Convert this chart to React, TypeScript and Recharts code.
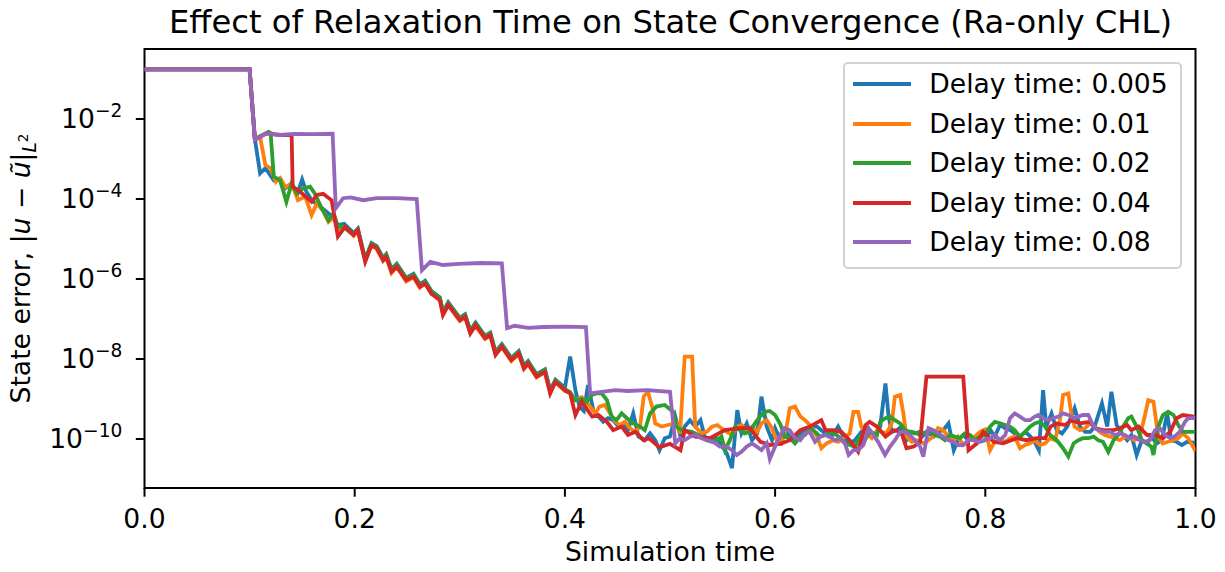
import { LineChart, Line, XAxis, YAxis, Legend, ReferenceArea } from 'recharts';

// values are read as log10 of the state error: [time, log10(error)]
const blueLog: [number, number][] = [
  [0, -0.76], [0.1, -0.76], [0.105, -2.5], [0.11, -3.36], [0.115, -3.23], [0.123, -3.53], [0.129, -3.48], [0.134, -3.73],
  [0.14, -3.61], [0.145, -3.9], [0.15, -3.51], [0.154, -3.82], [0.159, -4.03], [0.165, -4.15], [0.17, -4.25], [0.177, -4.4],
  [0.184, -4.65], [0.19, -4.62], [0.199, -4.85], [0.203, -4.74], [0.21, -5.5], [0.216, -5.1], [0.221, -5.18], [0.227, -5.47],
  [0.23, -5.38], [0.235, -5.75], [0.24, -5.62], [0.249, -5.97], [0.256, -5.87], [0.262, -6.13], [0.267, -6.04], [0.273, -6.3],
  [0.281, -6.46], [0.284, -6.82], [0.289, -6.58], [0.3, -6.97], [0.305, -6.88], [0.31, -7.29], [0.315, -7.09], [0.324, -7.42],
  [0.329, -7.34], [0.334, -7.82], [0.34, -7.63], [0.349, -7.97], [0.356, -7.8], [0.361, -8.16], [0.365, -8.05], [0.373, -8.38],
  [0.381, -8.26], [0.386, -8.78], [0.391, -8.52], [0.4, -8.72], [0.405, -7.94], [0.41, -8.78], [0.414, -9.2], [0.418, -9.3],
  [0.422, -8.65], [0.427, -9.28], [0.432, -9.44], [0.4365, -9.57], [0.441, -9.48], [0.446, -9.53], [0.451, -9.69], [0.456, -9.61],
  [0.46, -9.78], [0.465, -9.36], [0.47, -9.94], [0.476, -10.03], [0.481, -9.86], [0.486, -10.03], [0.49, -10.28], [0.495, -9.98],
  [0.5, -9.94], [0.505, -9.44], [0.51, -9.94], [0.514, -9.69], [0.519, -9.53], [0.524, -9.69], [0.529, -9.53], [0.533, -9.94],
  [0.538, -10.03], [0.543, -9.94], [0.548, -10.11], [0.554, -10.36], [0.559, -10.73], [0.564, -9.28], [0.568, -9.86], [0.573, -9.61],
  [0.578, -10.03], [0.583, -9.86], [0.587, -8.94], [0.592, -9.69], [0.597, -10.03], [0.6, -9.73], [0.605, -10.03], [0.609, -9.78],
  [0.614, -9.94], [0.619, -10.03], [0.624, -9.86], [0.633, -9.69], [0.64, -9.69], [0.651, -9.94], [0.655, -9.9], [0.66, -9.69],
  [0.665, -9.94], [0.671, -10.11], [0.676, -10.03], [0.681, -9.86], [0.686, -9.69], [0.69, -9.78], [0.695, -9.94], [0.7, -9.69],
  [0.705, -8.61], [0.708, -9.44], [0.711, -9.82], [0.716, -9.78], [0.72, -9.69], [0.725, -10.03], [0.73, -9.82], [0.735, -9.86],
  [0.74, -9.94], [0.744, -9.82], [0.751, -9.94], [0.755, -9.82], [0.76, -9.78], [0.765, -9.61], [0.77, -10.28], [0.774, -10.03],
  [0.779, -9.9], [0.784, -10.03], [0.789, -9.98], [0.795, -10.07], [0.8, -10.03], [0.805, -9.78], [0.809, -9.94], [0.814, -9.65],
  [0.819, -9.73], [0.824, -9.78], [0.828, -9.86], [0.833, -9.94], [0.838, -9.82], [0.843, -9.94], [0.847, -10.07], [0.851, -10.28],
  [0.855, -8.78], [0.858, -9.69], [0.863, -9.36], [0.868, -9.78], [0.873, -9.86], [0.878, -9.69], [0.885, -9.23], [0.89, -9.69],
  [0.895, -9.82], [0.9, -9.82], [0.904, -9.69], [0.911, -9.11], [0.916, -9.69], [0.92, -8.82], [0.925, -9.65], [0.93, -9.86],
  [0.935, -10.03], [0.939, -9.9], [0.944, -10.4], [0.949, -10.03], [0.954, -10.11], [0.958, -9.94], [0.963, -10.11], [0.968, -10.03],
  [0.973, -9.36], [0.977, -10.03], [0.982, -10.07], [0.987, -10.15], [0.992, -10.07], [1.0, -10.1],
];

const orangeLog: [number, number][] = [
  [0, -0.76], [0.1, -0.76], [0.105, -2.5], [0.11, -2.45], [0.115, -3.15], [0.12, -3.23], [0.125, -3.57], [0.129, -3.48],
  [0.134, -3.7], [0.14, -3.62], [0.146, -4.03], [0.153, -3.94], [0.159, -4.4], [0.164, -4.11], [0.17, -4.3], [0.175, -4.57],
  [0.18, -4.45], [0.184, -4.78], [0.19, -4.7], [0.199, -4.92], [0.203, -4.8], [0.21, -5.55], [0.216, -5.15], [0.221, -5.25],
  [0.227, -5.55], [0.23, -5.46], [0.235, -5.85], [0.24, -5.7], [0.249, -6.06], [0.256, -5.96], [0.262, -6.22], [0.267, -6.12],
  [0.273, -6.38], [0.281, -6.5], [0.284, -6.88], [0.289, -6.65], [0.3, -7.05], [0.305, -6.95], [0.31, -7.35], [0.315, -7.17],
  [0.324, -7.5], [0.329, -7.42], [0.334, -7.88], [0.34, -7.7], [0.349, -8.05], [0.356, -7.88], [0.361, -8.25], [0.365, -8.13],
  [0.373, -8.46], [0.381, -8.33], [0.386, -8.84], [0.391, -8.58], [0.4, -8.8], [0.405, -8.85], [0.41, -9.03], [0.416, -8.95],
  [0.424, -9.19], [0.429, -9.36], [0.433, -9.19], [0.438, -9.15], [0.443, -9.36], [0.448, -9.57], [0.452, -9.65], [0.457, -9.57],
  [0.462, -9.73], [0.467, -9.82], [0.4715, -9.69], [0.475, -8.94], [0.479, -8.82], [0.483, -9.19], [0.486, -9.61], [0.492, -9.69],
  [0.498, -9.65], [0.506, -9.6], [0.5095, -9.86], [0.514, -7.94], [0.521, -7.94], [0.524, -9.69], [0.53, -9.86], [0.535, -9.82],
  [0.54, -9.69], [0.545, -9.65], [0.549, -9.73], [0.554, -9.82], [0.559, -9.9], [0.564, -9.69], [0.568, -9.65], [0.573, -9.78],
  [0.578, -9.69], [0.583, -9.82], [0.587, -9.61], [0.592, -9.53], [0.597, -9.73], [0.6015, -10.03], [0.606, -10.11], [0.611, -9.69],
  [0.614, -9.23], [0.619, -9.19], [0.624, -9.44], [0.6285, -9.53], [0.633, -9.65], [0.64, -9.94], [0.644, -10.23], [0.649, -10.11],
  [0.655, -10.03], [0.66, -10.07], [0.665, -9.98], [0.671, -9.86], [0.6745, -9.32], [0.679, -9.32], [0.682, -9.69], [0.687, -9.86],
  [0.692, -9.98], [0.697, -9.78], [0.7015, -9.82], [0.706, -9.86], [0.711, -9.61], [0.714, -8.94], [0.719, -8.9], [0.722, -9.36],
  [0.725, -9.94], [0.73, -10.07], [0.735, -10.03], [0.741, -10.11], [0.746, -10.03], [0.7505, -9.94], [0.755, -9.73], [0.76, -9.78],
  [0.765, -9.94], [0.7695, -10.03], [0.774, -9.94], [0.779, -10.15], [0.785, -10.03], [0.79, -9.94], [0.795, -9.82], [0.8, -9.76],
  [0.8045, -10.28], [0.809, -10.07], [0.814, -10.03], [0.819, -10.07], [0.8235, -9.98], [0.828, -9.94], [0.833, -10.23], [0.838, -10.15],
  [0.8425, -10.11], [0.847, -10.03], [0.852, -10.15], [0.857, -10.11], [0.8616, -9.98], [0.8663, -10.03], [0.871, -9.53], [0.874, -8.9],
  [0.879, -8.86], [0.882, -9.4], [0.885, -9.69], [0.89, -9.78], [0.895, -9.73], [0.8996, -9.61], [0.904, -9.69], [0.9087, -9.82],
  [0.9138, -9.9], [0.9187, -9.94], [0.9233, -9.98], [0.928, -10.03], [0.9327, -9.94], [0.9375, -9.98], [0.942, -10.03], [0.947, -9.94],
  [0.952, -9.4], [0.955, -9.03], [0.96, -9.07], [0.9646, -9.94], [0.969, -10.11], [0.974, -10.07], [0.979, -10.03], [0.9836, -9.98],
  [0.988, -9.86], [0.993, -9.98], [1.0, -10.3],
];

const greenLog: [number, number][] = [
  [0, -0.76], [0.1, -0.76], [0.105, -2.5], [0.118, -2.32], [0.12, -2.35], [0.123, -3.44], [0.129, -3.53], [0.135, -4.07],
  [0.14, -3.61], [0.145, -3.86], [0.151, -3.73], [0.1575, -3.69], [0.162, -3.86], [0.1686, -4.23], [0.175, -4.53], [0.18, -4.36],
  [0.184, -4.69], [0.189, -4.69], [0.195, -4.82], [0.199, -4.88], [0.203, -4.76], [0.21, -5.52], [0.216, -5.12], [0.221, -5.2],
  [0.227, -5.5], [0.23, -5.4], [0.235, -5.78], [0.24, -5.64], [0.249, -5.99], [0.256, -5.9], [0.262, -6.15], [0.267, -6.07],
  [0.273, -6.32], [0.281, -6.48], [0.284, -6.85], [0.289, -6.6], [0.3, -6.99], [0.305, -6.9], [0.31, -7.32], [0.315, -7.11],
  [0.324, -7.44], [0.329, -7.36], [0.334, -7.85], [0.34, -7.65], [0.349, -7.99], [0.356, -7.82], [0.361, -8.19], [0.365, -8.07],
  [0.373, -8.4], [0.381, -8.28], [0.386, -8.82], [0.391, -8.54], [0.4, -8.75], [0.405, -8.83], [0.41, -9.03], [0.416, -9.0],
  [0.421, -9.07], [0.4255, -8.9], [0.43, -8.86], [0.435, -8.86], [0.44, -9.03], [0.4445, -9.44], [0.449, -9.53], [0.454, -9.36],
  [0.459, -9.48], [0.465, -9.61], [0.4715, -9.69], [0.476, -9.78], [0.481, -9.36], [0.487, -9.19], [0.495, -9.15], [0.503, -9.32],
  [0.506, -9.69], [0.511, -9.78], [0.521, -9.82], [0.53, -9.94], [0.535, -10.03], [0.54, -10.07], [0.5445, -10.03], [0.549, -9.94],
  [0.5523, -10.28], [0.557, -10.03], [0.562, -9.69], [0.5666, -9.78], [0.571, -9.86], [0.576, -9.82], [0.5808, -9.61], [0.5856, -9.44],
  [0.5904, -9.32], [0.595, -9.3], [0.6, -9.4], [0.605, -9.63], [0.609, -9.94], [0.614, -9.98], [0.619, -10.11], [0.624, -9.94],
  [0.6285, -9.9], [0.633, -9.73], [0.638, -9.82], [0.643, -9.94], [0.6475, -9.9], [0.652, -9.82], [0.657, -9.86], [0.6617, -9.98],
  [0.6665, -10.11], [0.671, -10.15], [0.676, -10.19], [0.681, -9.94], [0.6855, -10.03], [0.69, -9.82], [0.697, -9.9], [0.7, -9.57],
  [0.705, -9.48], [0.7094, -9.44], [0.714, -9.53], [0.719, -9.61], [0.7236, -9.78], [0.728, -9.82], [0.733, -9.86], [0.738, -9.82],
  [0.7425, -9.86], [0.747, -9.78], [0.752, -9.9], [0.757, -9.94], [0.7616, -10.03], [0.7664, -9.9], [0.771, -9.94], [0.776, -9.98],
  [0.7807, -9.86], [0.7855, -9.9], [0.79, -10.03], [0.795, -9.94], [0.8, -9.9], [0.8045, -9.69], [0.809, -9.57], [0.814, -9.61],
  [0.819, -9.65], [0.8235, -9.69], [0.828, -9.78], [0.833, -9.94], [0.838, -9.82], [0.8425, -9.69], [0.847, -9.61], [0.852, -9.57],
  [0.857, -9.69], [0.8616, -9.9], [0.868, -10.03], [0.874, -10.23], [0.879, -10.44], [0.884, -10.11], [0.8885, -10.03], [0.893, -9.98],
  [0.898, -9.98], [0.903, -9.94], [0.9075, -10.03], [0.912, -10.07], [0.917, -10.32], [0.922, -10.03], [0.9266, -9.9], [0.931, -9.69],
  [0.936, -9.48], [0.939, -9.44], [0.944, -9.69], [0.949, -10.03], [0.9535, -10.11], [0.958, -10.19], [0.96, -10.4], [0.9646, -9.69],
  [0.969, -9.4], [0.974, -9.32], [0.979, -9.4], [0.9836, -9.65], [0.988, -9.82], [0.993, -9.82], [1.0, -9.82],
];

const redLog: [number, number][] = [
  [0, -0.76], [0.1, -0.76], [0.105, -2.52], [0.116, -2.36], [0.129, -2.4], [0.14, -2.4], [0.141, -3.69], [0.148, -3.82],
  [0.159, -4.07], [0.164, -3.9], [0.17, -3.87], [0.178, -4.03], [0.184, -4.94], [0.191, -4.69], [0.199, -4.9], [0.203, -4.78],
  [0.21, -5.57], [0.216, -5.15], [0.221, -5.23], [0.227, -5.53], [0.23, -5.44], [0.235, -5.82], [0.24, -5.69], [0.249, -6.03],
  [0.256, -5.94], [0.262, -6.19], [0.267, -6.11], [0.273, -6.36], [0.281, -6.53], [0.284, -6.9], [0.289, -6.65], [0.3, -7.03],
  [0.305, -6.94], [0.31, -7.36], [0.315, -7.15], [0.324, -7.48], [0.329, -7.4], [0.334, -7.9], [0.34, -7.69], [0.349, -8.03],
  [0.356, -7.86], [0.361, -8.23], [0.365, -8.11], [0.373, -8.44], [0.381, -8.32], [0.386, -8.86], [0.391, -8.57], [0.4, -8.78],
  [0.405, -8.86], [0.41, -9.4], [0.416, -9.07], [0.426, -9.44], [0.432, -9.4], [0.44, -9.57], [0.446, -9.78], [0.454, -9.69],
  [0.46, -9.9], [0.467, -9.82], [0.475, -10.03], [0.48, -9.98], [0.49, -10.21], [0.5, -10.12], [0.51, -10.28], [0.514, -9.78],
  [0.524, -9.94], [0.538, -9.98], [0.552, -9.78], [0.567, -9.73], [0.576, -9.73], [0.586, -10.07], [0.595, -10.15], [0.605, -10.12],
  [0.614, -10.03], [0.624, -9.78], [0.633, -9.69], [0.644, -9.53], [0.648, -9.78], [0.655, -9.78], [0.663, -9.82], [0.671, -10.03],
  [0.679, -10.32], [0.686, -9.65], [0.69, -9.57], [0.697, -9.69], [0.705, -9.94], [0.713, -9.78], [0.72, -9.82], [0.725, -10.23],
  [0.732, -10.19], [0.738, -10.07], [0.744, -8.44], [0.779, -8.44], [0.784, -10.28], [0.792, -10.11], [0.798, -9.82], [0.808, -10.07],
  [0.817, -10.11], [0.83, -9.98], [0.839, -10.03], [0.849, -9.98], [0.857, -9.98], [0.862, -9.69], [0.868, -9.61], [0.876, -9.65],
  [0.882, -9.53], [0.89, -9.61], [0.9, -9.57], [0.904, -9.73], [0.912, -9.78], [0.922, -9.78], [0.928, -9.73], [0.935, -9.65],
  [0.939, -9.78], [0.946, -9.69], [0.954, -9.9], [0.962, -9.9], [0.969, -9.98], [0.976, -9.82], [0.982, -9.48], [0.988, -9.4],
  [1.0, -9.45],
];

const purpleLog: [number, number][] = [
  [0, -0.76], [0.1, -0.76], [0.105, -2.52], [0.116, -2.36], [0.129, -2.4], [0.142, -2.37], [0.16, -2.38], [0.179, -2.37],
  [0.182, -4.23], [0.189, -3.98], [0.196, -3.96], [0.208, -4.03], [0.221, -3.98], [0.24, -3.98], [0.259, -4.0], [0.264, -5.78],
  [0.272, -5.57], [0.284, -5.65], [0.299, -5.62], [0.32, -5.6], [0.34, -5.61], [0.345, -7.23], [0.352, -7.17], [0.365, -7.22],
  [0.38, -7.2], [0.4, -7.19], [0.42, -7.2], [0.424, -8.86], [0.435, -8.82], [0.448, -8.78], [0.46, -8.8], [0.478, -8.78],
  [0.5, -8.82], [0.505, -10.11], [0.5095, -9.98], [0.514, -10.03], [0.519, -9.94], [0.525, -9.9], [0.53, -9.98], [0.535, -10.03],
  [0.541, -10.07], [0.5475, -10.19], [0.554, -10.19], [0.559, -10.28], [0.5635, -10.4], [0.568, -10.32], [0.573, -10.19], [0.578, -10.11],
  [0.5825, -10.19], [0.587, -10.28], [0.592, -10.11], [0.595, -10.5], [0.6, -10.19], [0.605, -9.9], [0.609, -9.73], [0.614, -9.78],
  [0.619, -9.98], [0.624, -10.03], [0.6285, -9.86], [0.633, -9.82], [0.638, -10.07], [0.643, -9.94], [0.6475, -9.9], [0.652, -9.94],
  [0.657, -10.03], [0.6617, -9.98], [0.6665, -10.11], [0.67, -10.4], [0.6745, -10.28], [0.679, -10.28], [0.684, -10.15], [0.689, -9.73],
  [0.6935, -9.9], [0.698, -10.07], [0.7046, -10.4], [0.7094, -10.19], [0.714, -10.03], [0.719, -9.82], [0.7236, -9.82], [0.728, -9.9],
  [0.733, -10.03], [0.738, -10.19], [0.741, -10.44], [0.746, -9.73], [0.7505, -9.78], [0.755, -9.86], [0.76, -9.94], [0.765, -10.03],
  [0.7695, -10.07], [0.774, -10.15], [0.779, -10.15], [0.784, -10.03], [0.7886, -10.03], [0.793, -10.07], [0.798, -10.03], [0.8045, -9.98],
  [0.809, -9.9], [0.814, -10.03], [0.819, -9.9], [0.8235, -9.48], [0.828, -9.36], [0.833, -9.44], [0.838, -9.53], [0.8425, -9.53],
  [0.847, -9.44], [0.8505, -9.4], [0.855, -9.48], [0.86, -9.53], [0.8647, -9.48], [0.8695, -9.44], [0.874, -9.36], [0.879, -9.4],
  [0.884, -9.48], [0.8885, -9.44], [0.893, -9.4], [0.898, -9.4], [0.901, -9.57], [0.904, -9.73], [0.9087, -9.78], [0.9138, -9.82],
  [0.9187, -9.82], [0.9233, -9.9], [0.928, -9.86], [0.9327, -9.9], [0.9375, -9.98], [0.942, -9.94], [0.947, -10.03], [0.952, -10.07],
  [0.9566, -10.03], [0.9615, -9.78], [0.966, -9.73], [0.971, -9.9], [0.976, -9.98], [0.98, -9.94], [0.985, -9.82], [0.99, -9.57],
  [0.993, -9.48], [1.0, -9.48],
];

const delayTimes = ['0.005', '0.01', '0.02', '0.04', '0.08'];
const seriesLogs = [blueLog, orangeLog, greenLog, redLog, purpleLog];
const colors = ['#1f77b4', '#ff7f0e', '#2ca02c', '#d62728', '#9467bd'];

const xTicks = [0, 0.2, 0.4, 0.6, 0.8, 1.0];
const yTicks = [1e-10, 1e-8, 1e-6, 1e-4, 1e-2];
const yDomain = [10 ** -11.225, 10 ** -0.25];

const FONT = '"DejaVu Sans", sans-serif';
const FS = 26.6;

const toPoints = (arr: [number, number][]) => arr.map(([x, e]) => ({ x, y: 10 ** e }));

const XTick = (props: any) => {
  const { x, y, payload } = props;
  return (
    <text x={x} y={y + 31.5} textAnchor="middle" fontFamily={FONT} fontSize={FS} fill="#000">
      {Number(payload.value).toFixed(1)}
    </text>
  );
};

const YTick = (props: any) => {
  const { x, y, payload } = props;
  const p = Math.round(Math.log10(payload.value));
  return (
    <text x={x - 13.5} y={y + 8.5} textAnchor="end" fontFamily={FONT} fontSize={FS} fill="#000">
      10
      <tspan dy={-10.5} fontSize={18.6}>
        {'\u2212' + Math.abs(p)}
      </tspan>
    </text>
  );
};

const XLabel = (props: any) => {
  const vb = props.viewBox || { x: 144.5, y: 488, width: 1051 };
  return (
    <text x={vb.x + vb.width / 2} y={vb.y + 73} textAnchor="middle" fontFamily={FONT} fontSize={FS} fill="#000">
      Simulation time
    </text>
  );
};

const YLabel = (props: any) => {
  const vb = props.viewBox || { y: 49, height: 439 };
  const cx = 30;
  const cy = vb.y + vb.height / 2;
  return (
    <text
      x={cx}
      y={cy}
      transform={`rotate(-90 ${cx} ${cy})`}
      textAnchor="middle"
      fontFamily={FONT}
      fontSize={FS}
      fill="#000"
    >
      State error, |<tspan fontStyle="italic">u</tspan> − <tspan fontStyle="italic">ũ</tspan>|
      <tspan fontStyle="italic" fontSize={18.6} dy={5.5}>
        L
      </tspan>
      <tspan fontSize={13.5} dy={-8}>
        2
      </tspan>
    </text>
  );
};

const LegendBox = ({ payload }: any) => (
  <div
    style={{
      width: 339,
      height: 207,
      boxSizing: 'border-box',
      border: '2px solid #d3d3d3',
      borderRadius: 5,
      background: 'rgba(255,255,255,0.8)',
      position: 'relative',
      fontFamily: FONT,
      fontSize: FS,
      color: '#000',
    }}
  >
    {(payload || []).map((p: any, i: number) => (
      <div
        key={p.value}
        style={{
          position: 'absolute',
          left: 8.3,
          top: 5.3 + i * 39.5,
          height: 30,
          display: 'flex',
          alignItems: 'center',
          whiteSpace: 'nowrap',
        }}
      >
        <span style={{ display: 'inline-block', width: 57.5, height: 4, background: p.color, marginRight: 18.5 }} />
        <span style={{ lineHeight: '30px' }}>{p.value}</span>
      </div>
    ))}
  </div>
);

export default function App() {
  return (
    <div style={{ position: 'absolute', left: 0, top: 0, width: 1225, height: 572, background: '#fff' }}>
      <svg width={1225} height={49} style={{ position: 'absolute', left: 0, top: 0 }}>
        <text x={670.5} y={33} textAnchor="middle" fontFamily={FONT} fontSize={32.2} fill="#000">
          Effect of Relaxation Time on State Convergence (Ra-only CHL)
        </text>
      </svg>
      <LineChart width={1225} height={572} margin={{ top: 49, right: 29.5, bottom: 0, left: 0 }}>
        <XAxis
          dataKey="x"
          type="number"
          domain={[0, 1]}
          ticks={xTicks}
          interval={0}
          allowDataOverflow
          height={84}
          axisLine={false}
          tickSize={8.7}
          tickMargin={0}
          tickLine={{ stroke: '#000', strokeWidth: 2 }}
          tick={<XTick />}
          label={XLabel}
        />
        <YAxis
          dataKey="y"
          type="number"
          scale="log"
          domain={yDomain}
          ticks={yTicks}
          interval={0}
          allowDataOverflow
          width={144.5}
          axisLine={false}
          tickSize={8.7}
          tickMargin={0}
          tickLine={{ stroke: '#000', strokeWidth: 2 }}
          tick={<YTick />}
          label={YLabel}
        />
        <ReferenceArea
          x1={0}
          x2={1}
          y1={yDomain[0]}
          y2={yDomain[1]}
          fill="none"
          fillOpacity={0}
          stroke="#000"
          strokeWidth={2}
          ifOverflow="visible"
        />
        {seriesLogs.map((s, i) => (
          <Line
            key={delayTimes[i]}
            data={toPoints(s)}
            dataKey="y"
            name={`Delay time: ${delayTimes[i]}`}
            type="linear"
            stroke={colors[i]}
            strokeWidth={3.8}
            dot={false}
            activeDot={false}
            isAnimationActive={false}
          />
        ))}
        <Legend
          layout="horizontal"
          verticalAlign="middle"
          align="center"
          width={339}
          height={207}
          wrapperStyle={{ left: 843, top: 62 }}
          content={<LegendBox />}
        />
      </LineChart>
    </div>
  );
}
